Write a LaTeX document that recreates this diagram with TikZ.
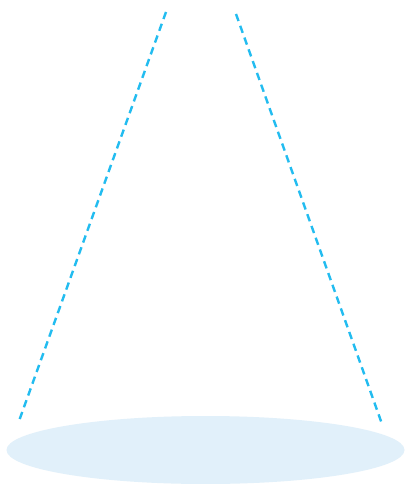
\documentclass[tikz,border=0pt]{standalone}
\definecolor{dashblue}{HTML}{22BCF0}
\definecolor{baseblue}{HTML}{E1F0FA}
\begin{document}
\begin{tikzpicture}[x=1bp,y=-1bp,
  rayline/.style={draw=dashblue,line width=2.4bp,dash pattern=on 7.5bp off 5bp},
  basefill/.style={fill=baseblue,draw=none}]
\useasboundingbox (0,0) rectangle (405,484);
\fill[white] (0,0) rectangle (405,484);
\coordinate (lt) at (166,12);
\coordinate (lb) at (19,421);
\coordinate (rt) at (236,14);
\coordinate (rb) at (382,424);
\path[basefill] (205.5,450) ellipse [x radius=199, y radius=34];
\draw[rayline] (lt) -- (lb);
\draw[rayline] (rt) -- (rb);
\end{tikzpicture}
\end{document}
